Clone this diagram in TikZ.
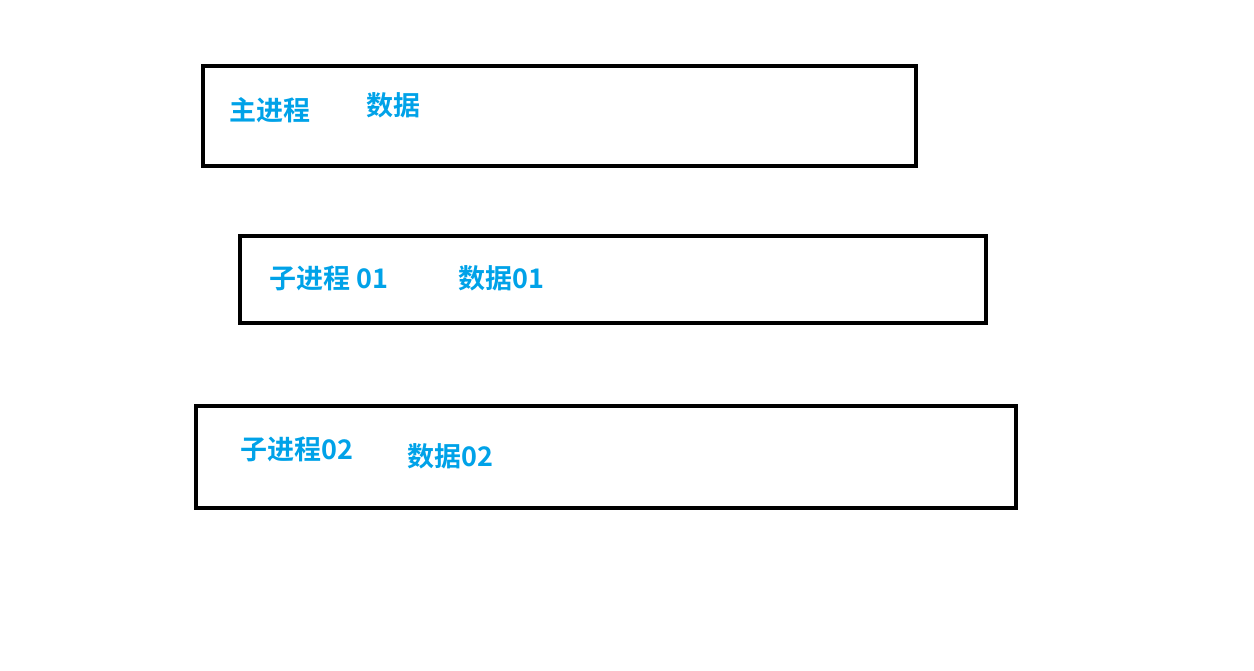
\documentclass[tikz,border=0pt]{standalone}
\usepackage{fontspec}
\newfontfamily\cjk{Noto Sans CJK SC}[BoldFont={* Bold}]
\definecolor{lblue}{HTML}{00A2E8}
\begin{document}
\begin{tikzpicture}[x=1pt,y=-1pt,
  procbox/.style={draw=black,line width=4.5pt},
  lbl/.style={anchor=west,inner sep=0pt,text=lblue,font=\cjk\bfseries\fontsize{27}{31}\selectfont}]
\useasboundingbox (0,0) rectangle (1254,670);
\draw[procbox] (203,66) rectangle (916,166);
\draw[procbox] (240,236) rectangle (986,323);
\draw[procbox] (196,406) rectangle (1016,508);
\node[lbl] (m1) at (229,110) {主进程};
\node[lbl] (m2) at (366,105) {数据};
\node[lbl] (s1) at (269,278) {子进程 01};
\node[lbl] (d1) at (458,278) {数据01};
\node[lbl] (s2) at (240,449) {子进程02};
\node[lbl] (d2) at (407,456) {数据02};
\end{tikzpicture}
\end{document}
